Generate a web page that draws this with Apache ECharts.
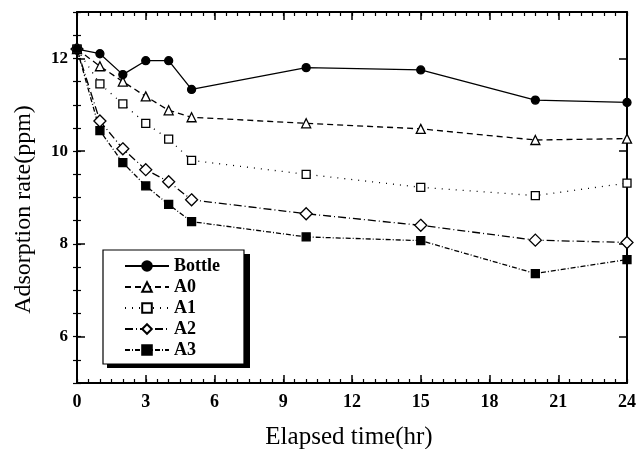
<!DOCTYPE html>
<html><head><meta charset="utf-8">
<script src="https://cdn.jsdelivr.net/npm/echarts@6/dist/echarts.min.js"></script>
<style>html,body{margin:0;padding:0;background:#fff}#c{width:638px;height:449px}</style>
</head><body><div id="c"></div>
<script>
const times = [0, 1, 2, 3, 4, 5, 10, 15, 20, 24];
const bottle = [12.2, 12.1, 11.65, 11.95, 11.95, 11.33, 11.8, 11.75, 11.1, 11.05];
const a0 = [12.2, 11.83, 11.5, 11.18, 10.88, 10.73, 10.6, 10.48, 10.24, 10.27];
const a1 = [12.2, 11.45, 11.02, 10.6, 10.26, 9.8, 9.5, 9.22, 9.04, 9.31];
const a2 = [12.2, 10.65, 10.05, 9.6, 9.34, 8.95, 8.65, 8.4, 8.08, 8.03];
const a3 = [12.2, 10.44, 9.75, 9.25, 8.85, 8.48, 8.15, 8.07, 7.36, 7.66];
const seriesNames = ['Bottle', 'A0', 'A1', 'A2', 'A3'];
const xTicks = [0, 3, 6, 9, 12, 15, 18, 21, 24];
const yTicks = [6, 8, 10, 12];

const FONT = '"Liberation Serif", "DejaVu Serif", serif';
const pair = arr => times.map((t, i) => [t, arr[i]]);
const styles = [
  {data: bottle, symbol: 'circle', size: 8, fill: '#000', dash: 'solid'},
  {data: a0, symbol: 'triangle', size: 9, fill: '#fff', dash: [6, 4]},
  {data: a1, symbol: 'rect', size: 8, fill: '#fff', dash: [1, 6]},
  {data: a2, symbol: 'diamond', size: 12, fill: '#fff', dash: [8, 3, 1, 3]},
  {data: a3, symbol: 'rect', size: 8, fill: '#000', dash: [5, 2, 1, 2]}
];

const lineOn = {show: true, onZero: false, lineStyle: {color: '#000', width: 2}};
const majorTick = {show: true, inside: true, length: 8, lineStyle: {color: '#000', width: 1.5}};
const minorTickS = {show: true, inside: true, length: 4, lineStyle: {color: '#000', width: 1.2}};
const noLabel = {show: false};

function xAx(pos, major, withLabel) {
  const ax = {
    type: 'value', min: 0, max: 24, interval: major ? 3 : 0.5, position: pos,
    axisLine: major ? lineOn : {show: false},
    axisTick: major ? majorTick : minorTickS,
    splitLine: {show: false},
    axisLabel: noLabel
  };
  if (withLabel) {
    ax.axisLabel = {show: true, fontFamily: FONT, fontWeight: 'bold', fontSize: 18, color: '#000', margin: 10,
      formatter: v => xTicks.includes(v) ? String(v) : ''};
    ax.name = 'Elapsed time(hr)';
    ax.nameLocation = 'middle';
    ax.nameGap = 42;
    ax.nameMoveOverlap = false;
    ax.nameTextStyle = {fontFamily: FONT, fontSize: 25, color: '#000', padding: [0, 6, 0, 0]};
  }
  return ax;
}
function yAx(pos, major, withLabel) {
  const ax = {
    type: 'value', min: 5, max: 13, interval: 0.5, position: pos,
    axisLine: major ? lineOn : {show: false},
    axisTick: major ? Object.assign({customValues: yTicks}, majorTick) : minorTickS,
    splitLine: {show: false},
    axisLabel: noLabel
  };
  if (withLabel) {
    ax.axisLabel = {show: true, customValues: yTicks, fontFamily: FONT, fontWeight: 'bold', fontSize: 17, color: '#000', margin: 9};
    ax.name = 'Adsorption rate(ppm)';
    ax.nameLocation = 'middle';
    ax.nameGap = 41;
    ax.nameMoveOverlap = false;
    ax.nameTextStyle = {fontFamily: FONT, fontSize: 24, color: '#000', padding: [0, 24, 0, 0]};
  }
  return ax;
}

const chart = echarts.init(document.getElementById('c'), null, {renderer: 'canvas'});
chart.setOption({
  animation: false,
  backgroundColor: '#fff',
  grid: {left: 77, right: 11, top: 12, bottom: 66, outerBoundsMode: 'none', containLabel: false},
  graphic: [{
    type: 'rect', left: 107, top: 254, z: 1,
    shape: {width: 143, height: 114},
    style: {fill: '#000'}
  }],
  legend: {
    show: true,
    z: 10,
    data: seriesNames,
    orient: 'vertical',
    left: 103, top: 250,
    padding: [7, 24, 5, 21],
    itemGap: 3,
    itemWidth: 44, itemHeight: 12,
    backgroundColor: '#fff',
    borderColor: '#000', borderWidth: 1.2,
    textStyle: {fontFamily: FONT, fontWeight: 'bold', fontSize: 18, color: '#000'}
  },
  xAxis: [xAx('bottom', true, true), xAx('top', true, false), xAx('bottom', false, false), xAx('top', false, false)],
  yAxis: [yAx('left', true, true), yAx('right', true, false), yAx('left', false, false), yAx('right', false, false)],
  series: styles.map((s, i) => ({
    name: seriesNames[i],
    type: 'line',
    data: pair(s.data),
    symbol: s.symbol,
    symbolSize: s.size,
    showAllSymbol: true,
    lineStyle: {color: '#000', width: 1.3, type: s.dash},
    itemStyle: {color: s.fill, borderColor: '#000', borderWidth: 1.3},
    z: 5 - i
  }))
});
</script></body></html>
